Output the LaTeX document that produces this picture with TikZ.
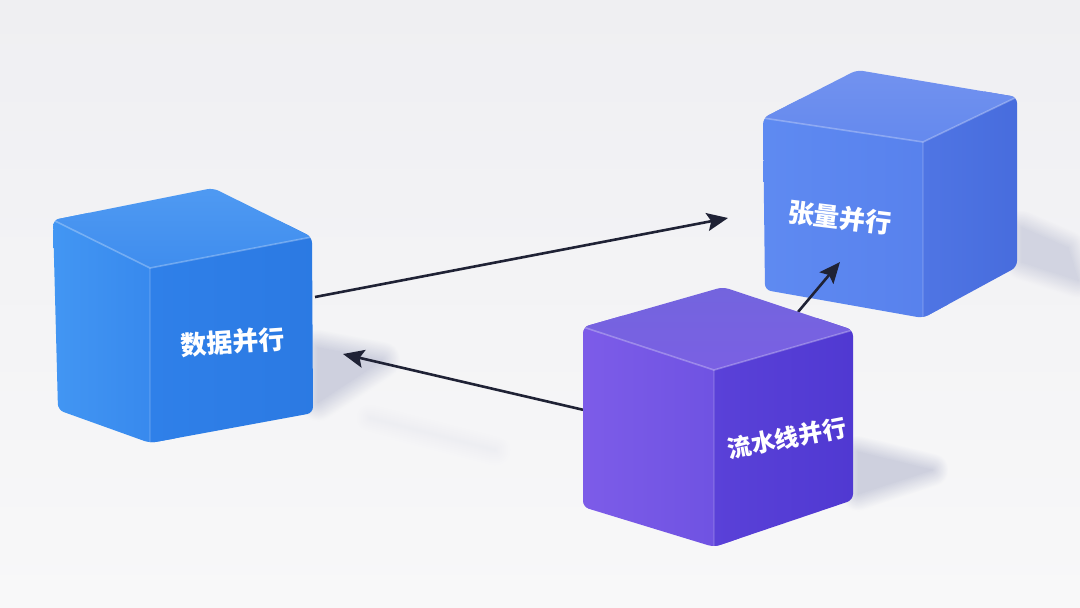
\documentclass[tikz,border=0pt]{standalone}
\usepackage{fontspec}
\newfontfamily\cjk{Noto Sans CJK SC}
\usetikzlibrary{arrows.meta}
\definecolor{bgtop}{HTML}{EFEFF2}
\definecolor{bgbot}{HTML}{F8F8F9}
\definecolor{arrowc}{HTML}{1F2235}
\definecolor{shd}{HTML}{C4C7D8}
% cube 1 colours
\definecolor{aT1}{HTML}{529CF3}\definecolor{aT2}{HTML}{3F8DEE}
\definecolor{aL1}{HTML}{4498F4}\definecolor{aL2}{HTML}{3586EC}
\definecolor{aR1}{HTML}{2F80E9}\definecolor{aR2}{HTML}{2B79E2}
% cube 2 colours
\definecolor{bT1}{HTML}{7594EF}\definecolor{bT2}{HTML}{6489EE}
\definecolor{bL1}{HTML}{5F8BF2}\definecolor{bL2}{HTML}{5780EC}
\definecolor{bR1}{HTML}{4F75E4}\definecolor{bR2}{HTML}{466BDC}
% cube 3 colours
\definecolor{cT1}{HTML}{7265DD}\definecolor{cT2}{HTML}{7A60E3}
\definecolor{cL1}{HTML}{7E5DE9}\definecolor{cL2}{HTML}{6D51E1}
\definecolor{cR1}{HTML}{5A41D8}\definecolor{cR2}{HTML}{4F38D1}
\tikzset{
  lbl/.style={text=white, font=\cjk\bfseries\fontsize{26}{30}\selectfont, inner sep=0pt},
  conn/.style={draw=arrowc, line width=2.6pt, -{Stealth[length=21pt,width=18pt,inset=4pt]}},
}
% soft shadow: #1 background colour name, #2 max percent, #3 blur, #4 path
\newcommand\softshadow[4]{%
  \foreach \i in {0,...,15}{%
    \pgfmathsetmacro\ww{#3*(1-\i/15)+0.1}%
    \pgfmathsetmacro\pp{#2*\i/15}%
    \filldraw[line width=\ww pt, line join=round, fill=shd!\pp!#1, draw=shd!\pp!#1] #4;
  }}
\newcommand\drawcube[7]{%
  \begin{scope}
    \clip[rounded corners=6pt] (#1L)--(#1B)--(#1R)--(#1RB)--(#1FB)--(#1LB)--cycle;
    \shade[left color=#4, right color=#5] ([shift={(-15,-25)}]#1L)--([shift={(25,-25)}]#1F)--([shift={(25,15)}]#1FB)--([shift={(-15,15)}]#1LB)--cycle;
    \shade[left color=#6, right color=#7] ([shift={(0,-25)}]#1F)--([shift={(15,-25)}]#1R)--([shift={(15,15)}]#1RB)--([shift={(0,15)}]#1FB)--(#1F)--cycle;
    \shade[top color=#2, bottom color=#3] (#1F)--(#1L)--([shift={(-15,0)}]#1L)--([shift={(0,-15)}]#1B)--([shift={(15,0)}]#1R)--(#1R)--cycle;
    \draw[white, opacity=0.28, line width=1.6pt, line join=round] (#1L)--(#1F)--(#1R);
    \draw[white, opacity=0.12, line width=1.4pt] (#1F)--(#1FB);
  \end{scope}}
\begin{document}
\begin{tikzpicture}[x=1pt, y=-1pt]
\useasboundingbox (0,0) rectangle (1080,608);
\shade[top color=bgtop, bottom color=bgbot] (0,0) rectangle (1080,608);

\colorlet{bgA}{bgtop!45!bgbot}
\colorlet{bgB}{bgtop!62!bgbot}
\colorlet{bgC}{bgtop!25!bgbot}
\colorlet{bgD}{bgtop!30!bgbot}

% floor shadows
\softshadow{bgA}{80}{38}{(318,348)--(382,360)--(318,402)--cycle}
\softshadow{bgD}{16}{30}{(370,418)--(495,450)--cycle}
\softshadow{bgB}{70}{36}{(1022,228)--(1068,248)--(1078,280)--(1022,262)--cycle}
\softshadow{bgC}{80}{34}{(858,452)--(932,470)--(858,494)--cycle}

% cube geometry
\coordinate (pL) at (53,220);  \coordinate (pB) at (213,188); \coordinate (pR) at (312,237); \coordinate (pF) at (150,268);
\coordinate (pLB) at (58,410); \coordinate (pFB) at (150,443); \coordinate (pRB) at (313,413);
\coordinate (qL) at (763,118); \coordinate (qB) at (857,70);  \coordinate (qR) at (1017,97); \coordinate (qF) at (923,142);
\coordinate (qLB) at (765,290);\coordinate (qFB) at (923,318); \coordinate (qRB) at (1017,267);
\coordinate (rL) at (583,327); \coordinate (rB) at (723,287); \coordinate (rR) at (853,330); \coordinate (rF) at (714,370);
\coordinate (rLB) at (583,507);\coordinate (rFB) at (714,547); \coordinate (rRB) at (853,500);

% arrow end points
\coordinate (a1s) at (315,297); \coordinate (a1e) at (728,218);
\coordinate (a2s) at (584,410); \coordinate (a2e) at (343,354);
\coordinate (a3s) at (798,312); \coordinate (a3e) at (840,262);

\drawcube{q}{bT1}{bT2}{bL1}{bL2}{bR1}{bR2}
\node[lbl, rotate=-7] (tensor) at (840,218) {张量并行};

\drawcube{p}{aT1}{aT2}{aL1}{aL2}{aR1}{aR2}
\node[lbl, rotate=4] (data) at (233,342) {数据并行};

\draw[conn] (a1s) -- (a1e);
\draw[conn] (a2s) -- (a2e);
\draw[conn] (a3s) -- (a3e);

\drawcube{r}{cT1}{cT2}{cL1}{cL2}{cR1}{cR2}
\node[lbl, font=\cjk\bfseries\fontsize{24}{28}\selectfont, rotate=11] (pipe) at (787,438) {流水线并行};
\end{tikzpicture}
\end{document}
